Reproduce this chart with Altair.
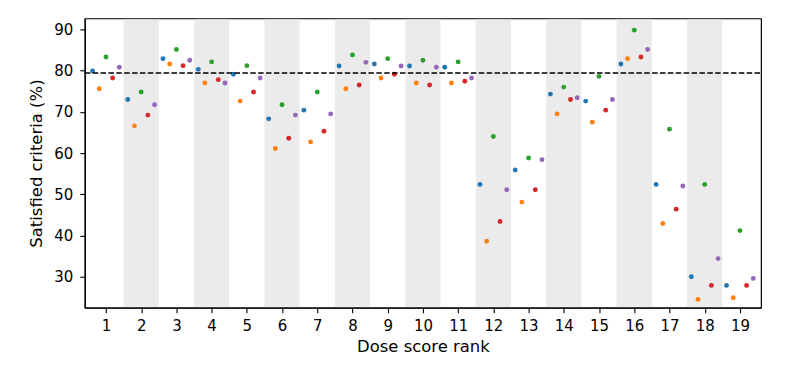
import altair as alt
import pandas as pd

ranks = list(range(1, 20))
series_names = ["A", "B", "C", "D", "E"]
series_colors = ["#1f77b4", "#ff7f0e", "#2ca02c", "#d62728", "#9467bd"]

blue   = [79.9, 73.0, 82.9, 80.3, 79.1, 68.3, 70.4, 81.1, 81.6, 81.1, 80.8, 52.4, 55.9, 74.3, 72.6, 81.6, 52.4, 30.0, 27.9]
orange = [75.6, 66.6, 81.6, 77.0, 72.6, 61.1, 62.7, 75.6, 78.2, 77.0, 77.0, 38.6, 48.1, 69.5, 67.5, 82.9, 42.9, 24.5, 24.9]
green  = [83.3, 74.8, 85.1, 82.1, 81.2, 71.7, 74.8, 83.8, 82.9, 82.5, 82.1, 64.0, 58.8, 76.0, 78.6, 89.8, 65.8, 52.4, 41.2]
red    = [78.2, 69.2, 81.2, 77.8, 74.8, 63.6, 65.3, 76.5, 79.1, 76.5, 77.4, 43.4, 51.1, 73.0, 70.4, 83.3, 46.4, 27.9, 27.9]
purple = [80.8, 71.7, 82.5, 77.0, 78.2, 69.2, 69.5, 82.0, 81.1, 80.8, 78.2, 51.1, 58.4, 73.4, 73.0, 85.1, 52.0, 34.4, 29.6]
threshold = 79.4

offsets = [-0.38, -0.19, 0.0, 0.19, 0.38]
all_vals = [blue, orange, green, red, purple]

rows = []
for name, off, vals in zip(series_names, offsets, all_vals):
    for r, v in zip(ranks, vals):
        rows.append({"rank": r, "pos": r + off, "value": v, "series": name})
df = pd.DataFrame(rows)

bands = pd.DataFrame({"start": [r - 0.5 for r in ranks if r % 2 == 0],
                      "end": [r + 0.5 for r in ranks if r % 2 == 0]})

W, H = 678, 290
xscale = alt.Scale(domain=[0.4, 19.6], nice=False, zero=False)
yscale = alt.Scale(domain=[22.5, 92.65], nice=False, zero=False)

xaxis = alt.Axis(values=ranks, title="Dose score rank", grid=False, format="d",
                 labelOverlap=False, labelPadding=6, titlePadding=5)

band_layer = alt.Chart(bands).mark_rect(color="#ebebeb").encode(
    x=alt.X("start:Q", scale=xscale, axis=xaxis),
    x2="end:Q",
    y=alt.value(1),
    y2=alt.value(H - 1),
)

points = alt.Chart(df).mark_circle(size=24, opacity=1).encode(
    x=alt.X("pos:Q", scale=xscale, axis=xaxis),
    y=alt.Y("value:Q", scale=yscale,
            axis=alt.Axis(values=[30, 40, 50, 60, 70, 80, 90], title="Satisfied criteria (%)",
                          grid=False, labelPadding=7, titlePadding=9)),
    color=alt.Color("series:N", scale=alt.Scale(domain=series_names, range=series_colors), legend=None),
)

rule = alt.Chart(pd.DataFrame({"y": [threshold]})).mark_rule(
    color="black", strokeWidth=1.5, strokeDash=[5.5, 2.4]
).encode(
    y=alt.Y("y:Q", scale=yscale),
    x=alt.value(0),
    x2=alt.value(W),
)

chart = alt.layer(band_layer, points, rule).properties(
    width=W, height=H,
    autosize=alt.AutoSizeParams(type="none"),
    padding={"left": 77, "top": 10, "right": 20, "bottom": 50},
).configure_view(
    stroke="black", strokeWidth=1.2
).configure_axis(
    labelFont="DejaVu Sans", titleFont="DejaVu Sans",
    labelFontSize=15, titleFontSize=16.5, titleFontWeight="normal",
    labelColor="black", titleColor="black",
    domainColor="black", tickColor="black", tickSize=5,
    domainWidth=1.2, tickWidth=1.1, zindex=1,
).configure_axisX(labelOverlap=False)

chart.save("out.html", embed_options={"renderer": "svg", "actions": False})
